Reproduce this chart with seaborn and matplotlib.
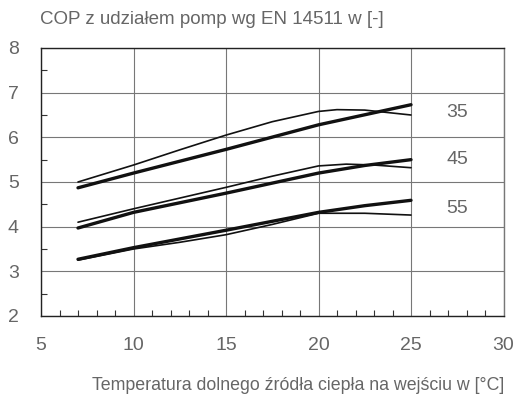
import numpy as np
import pandas as pd
import matplotlib.pyplot as plt
import seaborn as sns
from matplotlib.ticker import MultipleLocator

# 曲线数据
x_thin_35 = [7, 10, 12.5, 15, 17.5, 20, 21, 22.5, 25]
y_thin_35 = [5.0, 5.38, 5.72, 6.05, 6.35, 6.58, 6.62, 6.61, 6.5]
x_thick_35 = [7, 10, 15, 20, 25]
y_thick_35 = [4.87, 5.2, 5.73, 6.28, 6.73]

x_thin_45 = [7, 10, 15, 17.5, 20, 21.5, 23, 25]
y_thin_45 = [4.1, 4.4, 4.88, 5.13, 5.36, 5.4, 5.38, 5.32]
x_thick_45 = [7, 10, 15, 20, 22.5, 25]
y_thick_45 = [3.97, 4.32, 4.75, 5.2, 5.37, 5.5]

x_thin_55 = [7, 10, 12.5, 15, 17.5, 20, 22.5, 25]
y_thin_55 = [3.25, 3.5, 3.65, 3.82, 4.05, 4.3, 4.3, 4.26]
x_thick_55 = [7, 10, 15, 17.5, 20, 22.5, 25]
y_thick_55 = [3.27, 3.53, 3.92, 4.12, 4.32, 4.47, 4.59]

series_labels = ['35', '45', '55']
label_y = [6.55, 5.5, 4.4]

sns.set_style("white")
plt.rcParams['font.family'] = ['Liberation Sans', 'DejaVu Sans']

txt = '#666666'
fig = plt.figure(figsize=(5.18, 4.05), dpi=100)
ax = fig.add_axes([41 / 518, 1 - 316 / 405, 462.5 / 518, 268 / 405])

thin = [(x_thin_35, y_thin_35), (x_thin_45, y_thin_45), (x_thin_55, y_thin_55)]
thick = [(x_thick_35, y_thick_35), (x_thick_45, y_thick_45), (x_thick_55, y_thick_55)]
for xs, ys in thin:
    sns.lineplot(x=xs, y=ys, ax=ax, color='#111111', lw=1.2,
                 solid_capstyle='round', sort=False)
for xs, ys in thick:
    sns.lineplot(x=xs, y=ys, ax=ax, color='#111111', lw=2.4,
                 solid_capstyle='round', sort=False)

for lab, yy in zip(series_labels, label_y):
    ax.text(27.5, yy, lab, color=txt, fontsize=14, ha='center', va='center')

ax.set_xlim(5, 30)
ax.set_ylim(2, 8)
ax.xaxis.set_major_locator(MultipleLocator(5))
ax.yaxis.set_major_locator(MultipleLocator(1))
ax.xaxis.set_minor_locator(MultipleLocator(1))
ax.yaxis.set_minor_locator(MultipleLocator(0.5))
ax.grid(True, which='major', color='#777777', lw=0.8)
ax.tick_params(which='both', bottom=True, left=True, top=False, right=False)
ax.tick_params(which='major', length=0, labelsize=14, labelcolor=txt)
ax.tick_params(axis='x', which='major', pad=15)
ax.tick_params(axis='y', which='major', pad=16)
ax.tick_params(which='minor', direction='in', length=4, width=0.8, color='#333333')
for s in ['left', 'bottom', 'top']:
    ax.spines[s].set_color('#222222')
    ax.spines[s].set_linewidth(1.0)
ax.spines['right'].set_color('#777777')
ax.spines['right'].set_linewidth(1.0)

fig.text(40 / 518, 1 - 20 / 405, 'COP z udziałem pomp wg EN 14511 w [-]',
         color=txt, fontsize=13.5, ha='left', va='center')
fig.text(298 / 518, 1 - 385 / 405, 'Temperatura dolnego źródła ciepła na wejściu w [°C]',
         color=txt, fontsize=12.8, ha='center', va='center')

fig.savefig('out.png', dpi=100)
